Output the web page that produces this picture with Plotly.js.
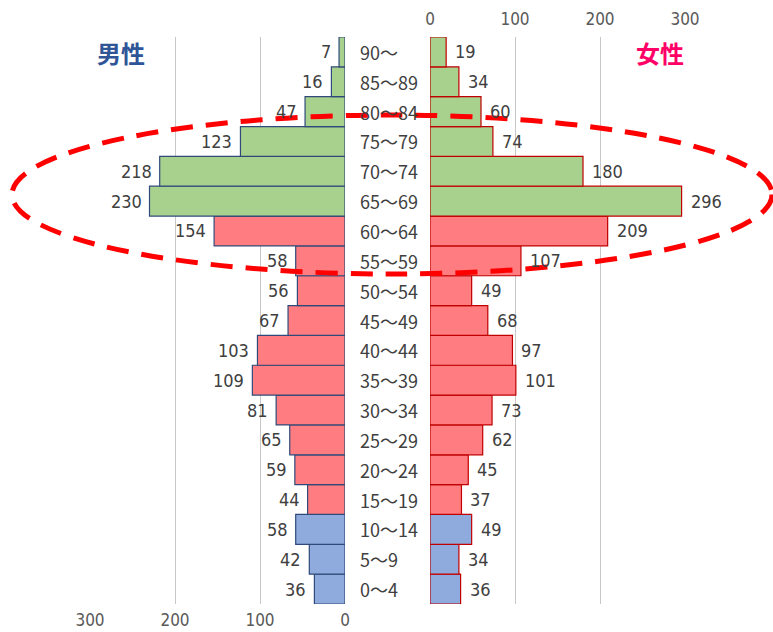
<!DOCTYPE html>
<html><head><meta charset="utf-8">
<script src="https://cdn.plot.ly/plotly-3.0.1.min.js"></script>
<style>body{margin:0;background:#fff}#c{width:773px;height:632px}</style>
</head><body><div id="c"></div>
<script>
const ages = ["0～4","5～9","10～14","15～19","20～24","25～29","30～34","35～39","40～44","45～49","50～54","55～59","60～64","65～69","70～74","75～79","80～84","85～89","90～"];
const male = [36,42,58,44,59,65,81,109,103,67,56,58,154,230,218,123,47,16,7];
const female = [36,34,49,37,45,62,73,101,97,68,49,107,209,296,180,74,60,34,19];
const groups = ["young","young","young","work","work","work","work","work","work","work","work","work","work","old","old","old","old","old","old"];
const groupColor = {young:"#8faadc", work:"#ff7c80", old:"#a9d18e"};
const colors = groups.map(g => groupColor[g]);

const W = 773, H = 632;
const numFont = {family:"'DejaVu Sans Condensed','Liberation Sans Narrow',sans-serif", size:18, color:"#404040"};
const ageFont = {family:"'Noto Sans CJK JP',sans-serif", size:18, color:"#404040"};

const traces = [
  {type:"bar", orientation:"h", y:ages, x:male, xaxis:"x", yaxis:"y",
   marker:{color:colors, line:{color:"#2f4a7a", width:1.2}}, hoverinfo:"none"},
  {type:"bar", orientation:"h", y:ages, x:female, xaxis:"x2", yaxis:"y",
   marker:{color:colors, line:{color:"#c00000", width:1.2}}, hoverinfo:"none"}
];

const annotations = [];
ages.forEach((a, i) => {
  annotations.push({xref:"paper", yref:"y", x:358/W, y:a, xanchor:"left", yanchor:"middle",
    text:a, showarrow:false, font:ageFont});
  annotations.push({xref:"x", yref:"y", x:male[i], y:a, xanchor:"right", yanchor:"middle",
    xshift:-6, text:String(male[i]), showarrow:false, font:numFont});
  annotations.push({xref:"x2", yref:"y", x:female[i], y:a, xanchor:"left", yanchor:"middle",
    xshift:7, text:String(female[i]), showarrow:false, font:numFont});
});
annotations.push({xref:"paper", yref:"paper", x:95/W, y:1-52/H, xanchor:"left", yanchor:"middle",
  text:"<b>男性</b>", showarrow:false, font:{family:"'Noto Sans CJK JP',sans-serif", size:24, color:"#2f5597"}});
annotations.push({xref:"paper", yref:"paper", x:686/W, y:1-52/H, xanchor:"right", yanchor:"middle",
  text:"<b>女性</b>", showarrow:false, font:{family:"'Noto Sans CJK JP',sans-serif", size:24, color:"#ff0066"}});

const tickFont = {family:"'DejaVu Sans Condensed','Liberation Sans Narrow',sans-serif", size:17, color:"#595959"};

const layout = {
  width:W, height:H, margin:{l:0,r:0,t:0,b:0},
  paper_bgcolor:"#fff", plot_bgcolor:"rgba(0,0,0,0)",
  showlegend:false, barmode:"overlay", bargap:0,
  xaxis:{domain:[90/W,345/W], range:[300,0], tickvals:[0,100,200,300], side:"bottom",
    showgrid:true, gridcolor:"#c8c8c8", gridwidth:1, zeroline:false, showline:false,
    ticks:"", tickfont:tickFont, ticklabelstandoff:4, anchor:"y", fixedrange:true},
  xaxis2:{domain:[430/W,685/W], range:[0,300], tickvals:[0,100,200,300], side:"top",
    showgrid:true, gridcolor:"#c8c8c8", gridwidth:1, zeroline:false, showline:false,
    ticks:"", tickfont:tickFont, ticklabelstandoff:8, anchor:"y", fixedrange:true},
  yaxis:{domain:[1-604/H, 1-37/H], range:[-0.5,18.5], type:"category",
    showticklabels:false, showgrid:false, zeroline:false, ticks:"", fixedrange:true},
  annotations:annotations,
  shapes:[{type:"circle", xref:"paper", yref:"paper", layer:"above",
    x0:12/W, x1:772/W, y0:1-274/H, y1:1-115/H,
    line:{color:"#ff0000", width:5, dash:"22px,13px"}}]
};
Plotly.newPlot("c", traces, layout, {displayModeBar:false, staticPlot:true});
</script></body></html>
